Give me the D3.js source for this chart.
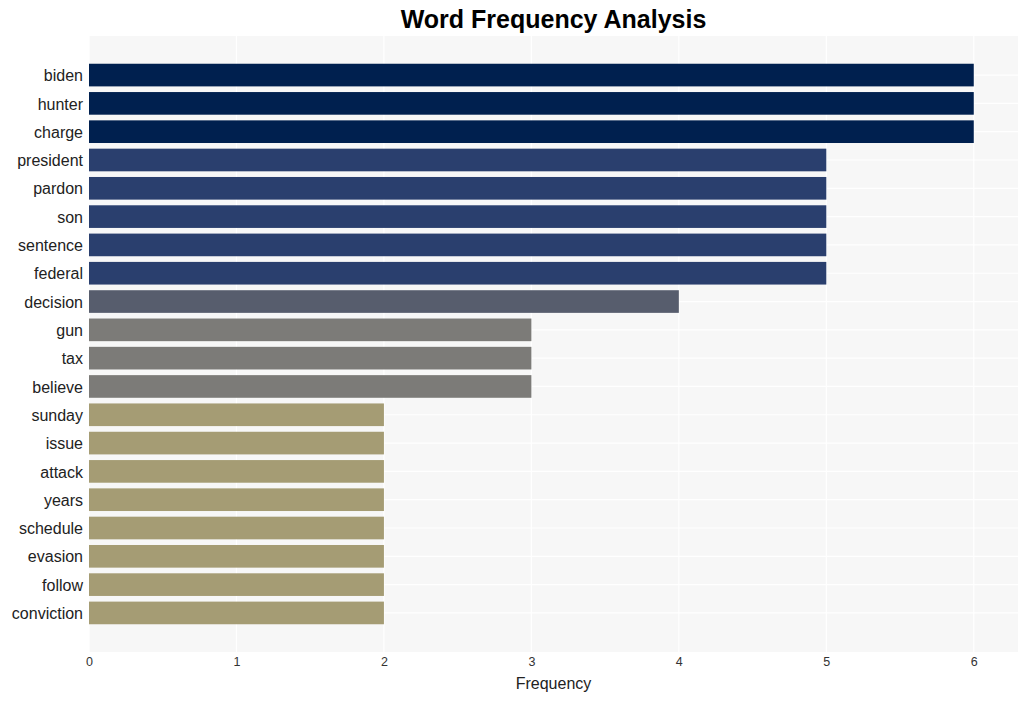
<!DOCTYPE html>
<html><head><meta charset="utf-8">
<script src="https://cdn.jsdelivr.net/npm/d3@7/dist/d3.min.js"></script>
<style>body{margin:0;background:#fff;} svg{display:block;font-family:"Liberation Sans",Arial,sans-serif;}</style>
</head><body>
<script>
const words = ["biden","hunter","charge","president","pardon","son","sentence","federal","decision","gun","tax","believe","sunday","issue","attack","years","schedule","evasion","follow","conviction"];
const freqs = [6,6,6,5,5,5,5,5,4,3,3,3,2,2,2,2,2,2,2,2];
const xTicks = [0,1,2,3,4,5,6];
const freqLevels = [2,3,4,5,6];
const levelColors = ["#a59c74","#7c7b78","#575d6d","#2a3f6e","#00204f"];

const W = 1028, H = 701;
const m = {left:89, right:1018, top:36, bottom:652};
const svg = d3.select("body").append("svg").attr("width",W).attr("height",H);

const x = d3.scaleLinear().domain([0,6.3]).range([m.left,m.right]);
const y = d3.scaleBand().domain(words).range([m.top,m.bottom]).paddingInner(0.2).paddingOuter(0.98);
const color = d3.scaleOrdinal().domain(freqLevels).range(levelColors);

svg.append("rect").attr("x",m.left).attr("y",m.top).attr("width",m.right-m.left).attr("height",m.bottom-m.top).attr("fill","#f7f7f7");

// grid
svg.append("g").selectAll("line").data(xTicks).join("line")
  .attr("x1",d=>x(d)).attr("x2",d=>x(d)).attr("y1",m.top).attr("y2",m.bottom)
  .attr("stroke","#ffffff").attr("stroke-width",1.2);
svg.append("g").selectAll("line").data(words).join("line")
  .attr("x1",m.left).attr("x2",m.right).attr("y1",d=>y(d)+y.bandwidth()/2).attr("y2",d=>y(d)+y.bandwidth()/2)
  .attr("stroke","#ffffff").attr("stroke-width",1.2);

// bars
svg.append("g").selectAll("rect").data(words).join("rect")
  .attr("x",x(0)).attr("y",d=>y(d)).attr("height",y.bandwidth())
  .attr("width",(d,i)=>x(freqs[i])-x(0))
  .attr("fill",(d,i)=>color(freqs[i]));

// y axis labels
const yAxis = d3.axisLeft(y).tickSize(0).tickPadding(6);
const gy = svg.append("g").attr("transform",`translate(${m.left},1)`).call(yAxis);
gy.select(".domain").remove();
gy.selectAll("text").attr("font-size",16).attr("fill","#222").style("font-family","'Liberation Sans',Arial,sans-serif");

// x axis
const xAxis = d3.axisBottom(x).tickValues(xTicks).tickSize(0).tickPadding(5).tickFormat(d3.format("d"));
const gx = svg.append("g").attr("transform",`translate(0,${m.bottom})`).call(xAxis);
gx.select(".domain").remove();
gx.selectAll("text").attr("font-size",12.5).attr("fill","#333").style("font-family","'Liberation Sans',Arial,sans-serif");

svg.append("text").attr("x",(m.left+m.right)/2).attr("y",689).attr("text-anchor","middle")
  .attr("font-size",16).attr("fill","#222").text("Frequency");
svg.append("text").attr("x",(m.left+m.right)/2).attr("y",28).attr("text-anchor","middle")
  .attr("font-size",25).attr("font-weight","bold").attr("fill","#000").text("Word Frequency Analysis");
</script>
</body></html>
